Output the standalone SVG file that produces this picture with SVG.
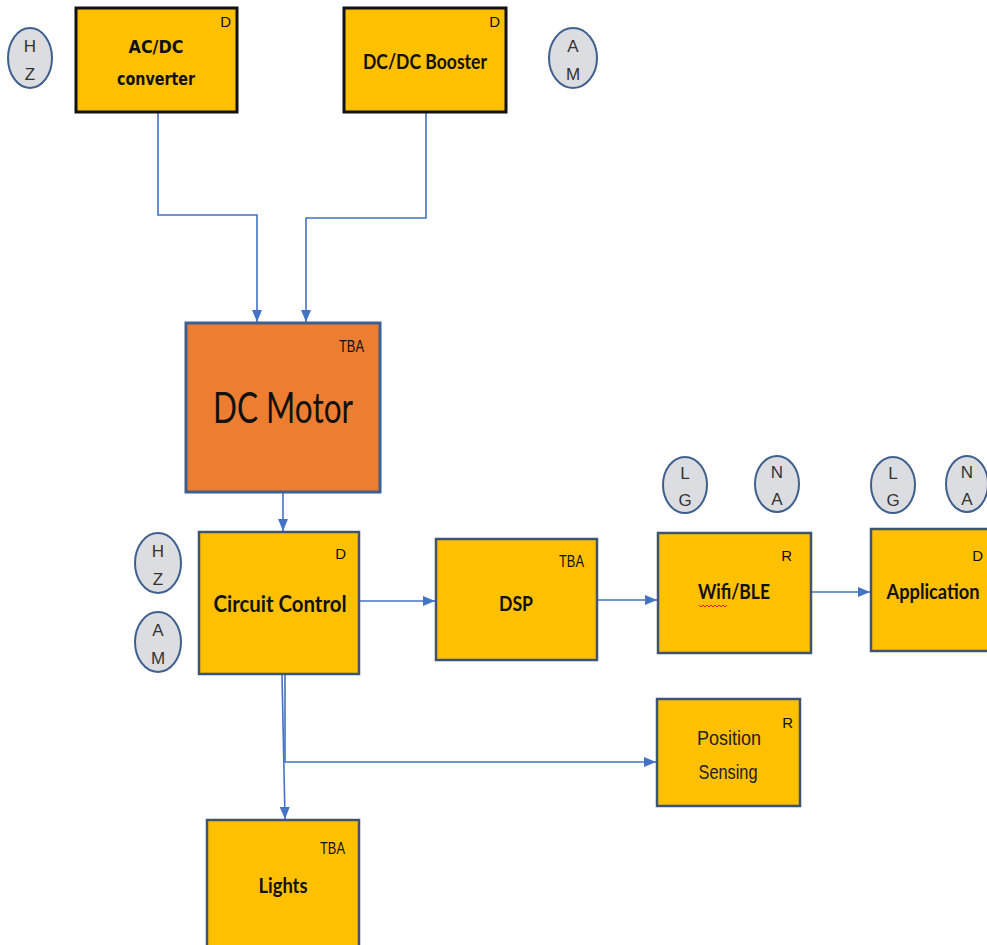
<svg xmlns="http://www.w3.org/2000/svg" width="987" height="945" viewBox="0 0 987 945">
  <style>
    .box { fill: #FFC000; stroke: #3F5373; stroke-width: 2.5; }
    .box-dark { fill: #FFC000; stroke: #111111; stroke-width: 3; }
    .motor { fill: #ED7D31; stroke: #3F5F8F; stroke-width: 3; }
    .tag { fill: #DCDDE0; stroke: #3F5F8F; stroke-width: 2; }
    .tag-t { font-family: "Liberation Sans", Arial, sans-serif; font-size: 17px; fill: #333; text-anchor: middle; }
    .lbl { font-family: Lato, "Liberation Sans", sans-serif; font-weight: bold; font-size: 21px; fill: #111; text-anchor: middle; }
    .lbl-top { font-family: "DejaVu Sans Condensed", "DejaVu Sans", sans-serif; font-weight: bold; font-size: 17px; fill: #111; text-anchor: middle; }
    .lbl-n { font-family: "Liberation Sans", Arial, sans-serif; font-size: 21px; fill: #222; text-anchor: middle; }
    .corner { font-family: "Liberation Sans", Arial, sans-serif; font-size: 15px; fill: #111; text-anchor: end; }
    .wire { fill: none; stroke: #4472C4; stroke-width: 1.6; marker-end: url(#arrow); }
  </style>
  <defs>
    <marker id="arrow" viewBox="0 0 12 10" refX="12" refY="5" markerWidth="12" markerHeight="10" markerUnits="userSpaceOnUse" orient="auto">
      <path d="M0,0 L12,5 L0,10 z" fill="#4472C4"/>
    </marker>
  </defs>
  <rect width="987" height="945" fill="#ffffff"/>

  <!-- connectors -->
  <g id="connectors">
    <path class="wire" d="M158,112 V215 H257 V322"/>
    <path class="wire" d="M426,112 V218 H306 V322"/>
    <path class="wire" d="M283,492 V531"/>
    <path class="wire" d="M359,601 H435"/>
    <path class="wire" d="M597,600 H657"/>
    <path class="wire" d="M811,592 H870"/>
    <path class="wire" d="M282,674 L285,819"/>
    <path class="wire" d="M285,674 V762 H656"/>
  </g>

  <g id="acdc">
    <rect class="box-dark" x="76" y="8" width="161" height="104"/>
    <text class="corner" x="231" y="27">D</text>
    <text class="lbl-top" x="156" y="53" textLength="55" lengthAdjust="spacingAndGlyphs">AC/DC</text>
    <text class="lbl-top" x="156" y="85" textLength="78" lengthAdjust="spacingAndGlyphs">converter</text>
  </g>
  <g id="dcdc">
    <rect class="box-dark" x="344" y="8" width="162" height="104"/>
    <text class="corner" x="500" y="27">D</text>
    <text class="lbl" x="425" y="69" style="font-size:20px" textLength="124" lengthAdjust="spacingAndGlyphs">DC/DC Booster</text>
  </g>
  <g id="tag-hz-top">
    <ellipse class="tag" cx="30" cy="58" rx="22" ry="30"/>
    <text class="tag-t" x="30" y="52">H</text>
    <text class="tag-t" x="30" y="80">Z</text>
  </g>
  <g id="tag-am-top">
    <ellipse class="tag" cx="573" cy="58" rx="24" ry="30"/>
    <text class="tag-t" x="573" y="52">A</text>
    <text class="tag-t" x="573" y="80">M</text>
  </g>

  <g id="motor">
    <rect class="motor" x="186" y="323" width="194" height="169"/>
    <text class="corner" x="364" y="352" style="font-size:16px" textLength="25" lengthAdjust="spacingAndGlyphs">TBA</text>
    <text x="283" y="423" text-anchor="middle" textLength="140" lengthAdjust="spacingAndGlyphs" style="font-family:Lato,'Liberation Sans',sans-serif;font-size:42px;fill:#111">DC Motor</text>
  </g>

  <g id="circuit">
    <rect class="box" x="199" y="532" width="160" height="142"/>
    <text class="corner" x="346" y="559">D</text>
    <text class="lbl" x="280" y="612" style="font-size:23px" textLength="133" lengthAdjust="spacingAndGlyphs">Circuit Control</text>
  </g>
  <g id="tag-hz-left">
    <ellipse class="tag" cx="158" cy="563" rx="23" ry="30"/>
    <text class="tag-t" x="158" y="557">H</text>
    <text class="tag-t" x="158" y="585">Z</text>
  </g>
  <g id="tag-am-left">
    <ellipse class="tag" cx="158" cy="642" rx="23" ry="30"/>
    <text class="tag-t" x="158" y="636">A</text>
    <text class="tag-t" x="158" y="664">M</text>
  </g>

  <g id="dsp">
    <rect class="box" x="436" y="539" width="161" height="121"/>
    <text class="corner" x="584" y="567" style="font-size:16px" textLength="25" lengthAdjust="spacingAndGlyphs">TBA</text>
    <text class="lbl" x="516" y="611" textLength="34" lengthAdjust="spacingAndGlyphs">DSP</text>
  </g>

  <g id="wifi">
    <rect class="box" x="658" y="533" width="153" height="120"/>
    <text class="corner" x="792" y="561">R</text>
    <text class="lbl" x="734" y="599" textLength="72" lengthAdjust="spacingAndGlyphs">Wifi/BLE</text>
    <path d="M699,605 l2,2 l2,-2 l2,2 l2,-2 l2,2 l2,-2 l2,2 l2,-2 l2,2 l2,-2 l2,2 l2,-2 l2,2 l2,-2" fill="none" stroke="#E02020" stroke-width="1"/>
  </g>
  <g id="tag-lg-wifi">
    <ellipse class="tag" cx="685" cy="485" rx="22" ry="28"/>
    <text class="tag-t" x="685" y="479">L</text>
    <text class="tag-t" x="685" y="506">G</text>
  </g>
  <g id="tag-na-wifi">
    <ellipse class="tag" cx="777" cy="484" rx="22" ry="28"/>
    <text class="tag-t" x="777" y="478">N</text>
    <text class="tag-t" x="777" y="505">A</text>
  </g>

  <g id="application">
    <rect class="box" x="871" y="529" width="130" height="122"/>
    <text class="corner" x="983" y="561">D</text>
    <text class="lbl" x="933" y="599" textLength="93" lengthAdjust="spacingAndGlyphs">Application</text>
  </g>
  <g id="tag-lg-app">
    <ellipse class="tag" cx="893" cy="485" rx="22" ry="28"/>
    <text class="tag-t" x="893" y="479">L</text>
    <text class="tag-t" x="893" y="506">G</text>
  </g>
  <g id="tag-na-app">
    <ellipse class="tag" cx="967" cy="484" rx="21" ry="28"/>
    <text class="tag-t" x="967" y="478">N</text>
    <text class="tag-t" x="967" y="505">A</text>
  </g>

  <g id="position">
    <rect class="box" x="657" y="699" width="143" height="107"/>
    <text class="corner" x="793" y="728">R</text>
    <text class="lbl-n" x="729" y="745" textLength="64" lengthAdjust="spacingAndGlyphs">Position</text>
    <text class="lbl-n" x="728" y="779" textLength="59" lengthAdjust="spacingAndGlyphs">Sensing</text>
  </g>

  <g id="lights">
    <rect class="box" x="207" y="820" width="152" height="140"/>
    <text class="corner" x="345" y="854" style="font-size:16px" textLength="25" lengthAdjust="spacingAndGlyphs">TBA</text>
    <text class="lbl" x="283" y="893" textLength="49" lengthAdjust="spacingAndGlyphs">Lights</text>
  </g>
</svg>
